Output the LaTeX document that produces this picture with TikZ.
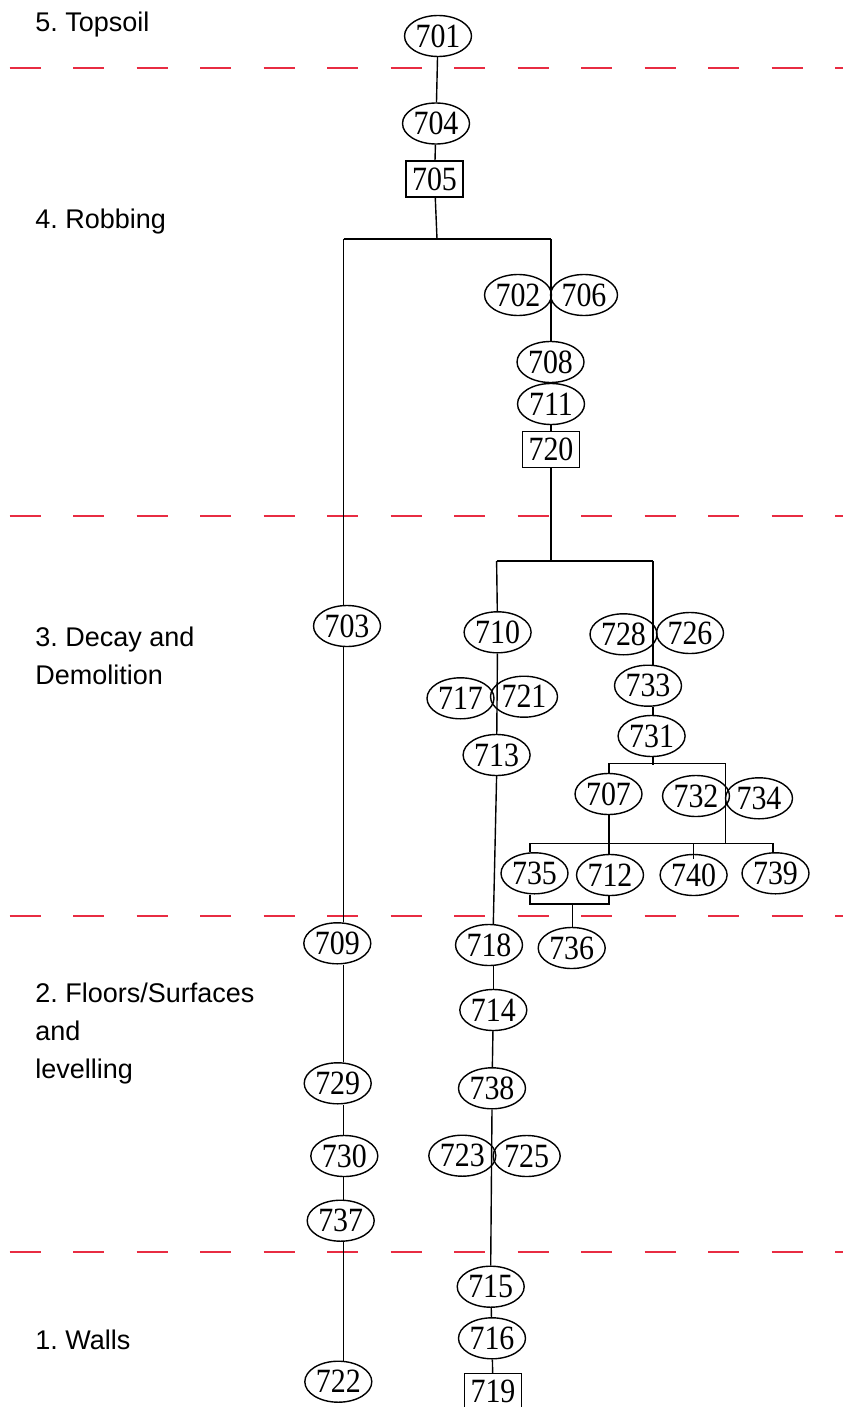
\documentclass[tikz,border=0pt]{standalone}
\usepackage{fontspec}
\usepackage{xcolor}
\usepackage{tikz}
\usetikzlibrary{shapes.geometric,calc}
\setmainfont{Liberation Sans}
\newfontfamily\ctxfont[FakeStretch=0.88]{Liberation Serif}
\definecolor{phasered}{RGB}{232,44,66}
\frenchspacing

\tikzset{
  ctx/.style={ellipse,draw,line width=0.7pt,inner sep=0pt,minimum width=33.5pt,minimum height=20.5pt,
    font=\ctxfont\fontsize{17}{17}\selectfont},
  grp/.style={rectangle,draw,line width=0.7pt,inner sep=0pt,minimum width=28.5pt,minimum height=18pt,
    font=\ctxfont\fontsize{17}{17}\selectfont},
  phase/.style={anchor=base west,inner sep=0pt,align=left,font=\fontsize{13.5}{19}\selectfont},
  cut/.style={draw=phasered,line width=1pt,dash pattern=on 15.5pt off 16.25pt},
  lnk/.style={draw,line width=0.7pt}
}

\begin{document}
\begin{tikzpicture}[x=0.5pt,y=-0.5pt]
  % 1 unit = 1 px of the 843x1407 matrix
  \useasboundingbox (0,0) rectangle (843,1407);

  % phase boundaries
  \foreach \yy/\nm in {68/b54,516/b43,916/b32,1252/b21} {
    \coordinate (\nm w) at (9.7,\yy);
    \coordinate (\nm e) at (843,\yy);
    \draw[cut] (\nm w) -- (\nm e);
  }

  % phase labels (base = last line)
  \node[phase] (p5) at (35,31.7) {5. Topsoil};
  \node[phase] (p4) at (35,228.3) {4. Robbing};
  \node[phase] (p3) at (35,684) {3. Decay and\\Demolition};
  \node[phase] (p2) at (35,1078) {2. Floors/Surfaces\\and\\levelling};
  \node[phase] (p1) at (35,1349) {1. Walls};

  % contexts
  \node[ctx] (n701) at (438,36) {701};
  \node[ctx] (n704) at (436,123.5) {704};
  \node[grp] (n705) at (434.5,179) {705};
  \node[ctx] (n702) at (518,295) {702};
  \node[ctx] (n706) at (584,295) {706};
  \node[ctx] (n708) at (550.5,362) {708};
  \node[ctx] (n711) at (551,404) {711};
  \node[grp] (n720) at (551,449.5) {720};
  \node[ctx] (n703) at (347,626) {703};
  \node[ctx] (n710) at (497.6,632.3) {710};
  \node[ctx] (n728) at (623.5,634.3) {728};
  \node[ctx] (n726) at (690,633) {726};
  \node[ctx] (n717) at (460.5,698.3) {717};
  \node[ctx] (n721) at (524,696.7) {721};
  \node[ctx] (n733) at (648,685.7) {733};
  \node[ctx] (n731) at (651.6,736) {731};
  \node[ctx] (n713) at (496.6,755) {713};
  \node[ctx] (n707) at (608.5,794) {707};
  \node[ctx] (n732) at (696,796) {732};
  \node[ctx] (n734) at (759,798.3) {734};
  \node[ctx] (n735) at (534.5,873.3) {735};
  \node[ctx] (n712) at (610,875) {712};
  \node[ctx] (n740) at (693.6,875) {740};
  \node[ctx] (n739) at (775.5,873.3) {739};
  \node[ctx] (n709) at (337.3,943.3) {709};
  \node[ctx] (n718) at (489,945) {718};
  \node[ctx] (n736) at (571.7,948) {736};
  \node[ctx] (n714) at (493.3,1010) {714};
  \node[ctx] (n729) at (337.7,1083.3) {729};
  \node[ctx] (n738) at (492,1088.3) {738};
  \node[ctx] (n730) at (344.3,1156) {730};
  \node[ctx] (n723) at (462.3,1155.7) {723};
  \node[ctx] (n725) at (526.7,1156) {725};
  \node[ctx] (n737) at (340.7,1220.7) {737};
  \node[ctx] (n715) at (490.7,1286.7) {715};
  \node[ctx] (n716) at (492,1338.3) {716};
  \node[ctx] (n722) at (338.3,1381.7) {722};
  \node[grp] (n719) at (493,1391.5) {719};

  % junction points
  \coordinate (ja) at (437,239);    \coordinate (jaL) at (343.5,239);  \coordinate (jaR) at (551,239);
  \coordinate (jb) at (551,561);    \coordinate (jbL) at (496.6,561);  \coordinate (jbR) at (653,561);
  \coordinate (jc) at (653,765);    \coordinate (jcL) at (609,763.3);  \coordinate (jcR) at (725.6,763.3);
  \coordinate (jdL) at (530,843.3); \coordinate (jdM) at (693.6,843.3); \coordinate (jdR) at (773,843.3);
  \coordinate (jdC) at (725.6,843.3);
  \coordinate (jeL) at (530,904);   \coordinate (jeM) at (572.4,904);  \coordinate (jeR) at (609,904);

  % top stem
  \draw[lnk] (n701) -- (n704);
  \draw[lnk] (n704) -- (n705);
  \draw[lnk] (n705) -- (ja);
  \draw[lnk] (jaL) -- (jaR);

  % left column
  \draw[lnk] (jaL) -- (n703.north -| jaL);
  \foreach \a/\b in {703/709,709/729,729/730,730/737,737/722}
    \draw[lnk] (n\a.south -| jaL) -- (n\b.north -| jaL);

  % right column, robbing
  \draw[lnk] (jaR) -- (n708.north -| jaR);
  \draw[lnk] (n708) -- (n711);
  \draw[lnk] (n711) -- (n720);
  \draw[lnk] (n720) -- (jb);
  \draw[lnk] (jbL) -- (jbR);

  % decay branch, left
  \draw[lnk] (jbL) -- (n710);
  \draw[lnk] (n710) -- (n713);
  \draw[lnk] (n713.south) -- (n718.north -| n714);
  \draw[lnk] (n718.south -| n714) -- (n714);
  \draw[lnk] (n714) -- (n738);
  \draw[lnk] (n738.south) -- (n715.north);
  \draw[lnk] (n715) -- (n716);
  \draw[lnk] (n716) -- (n719);

  % decay branch, right
  \draw[lnk] (jbR) -- (n733.north -| jbR);
  \draw[lnk] (n733.south -| jbR) -- (n731.north -| jbR);
  \draw[lnk] (n731.south -| jbR) -- (jc);
  \draw[lnk] (jcL) -- (jcR);
  \draw[lnk] (jcL) -- (n707.north -| jcL);
  \draw[lnk] (n707.south -| jcL) -- (n712.north -| jcL);
  \draw[lnk] (jcR) -- (jdC);
  \draw[lnk] (jdL) -- (jdR);
  \draw[lnk] (jdL) -- (n735.north -| jdL);
  \draw[lnk] (jdM) -- ($(n740.north)+(0,5)$);
  \draw[lnk] (jdR) -- (n739.north -| jdR);
  \draw[lnk] (n735.south -| jeL) -- (jeL) -- (jeR) -- (n712.south -| jeR);
  \draw[lnk] (jeM) -- (n736.north -| jeM);
\end{tikzpicture}
\end{document}
